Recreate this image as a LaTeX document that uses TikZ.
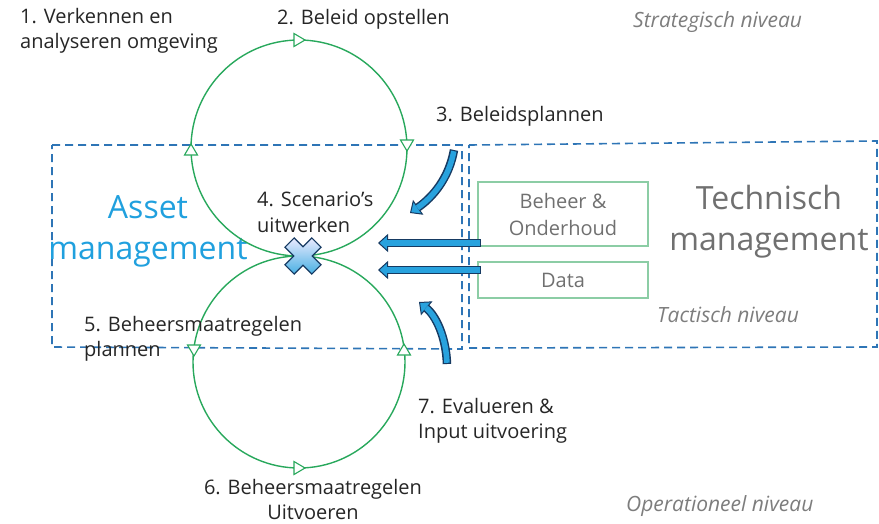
\documentclass[tikz,border=0pt]{standalone}
\usepackage{fontspec}
\setmainfont{Open Sans}
\usetikzlibrary{arrows.meta, positioning}

\definecolor{loopgreen}{RGB}{40,168,92}
\definecolor{boxblue}{RGB}{46,117,182}
\definecolor{assetblue}{RGB}{32,160,222}
\definecolor{arrowfill}{RGB}{40,162,222}
\definecolor{arrowedge}{RGB}{22,58,98}
\definecolor{levelgray}{RGB}{125,125,125}
\definecolor{techgray}{RGB}{112,112,112}
\definecolor{framegreen}{RGB}{140,205,165}

\begin{document}
\begin{tikzpicture}[
x=1pt, y=-1pt,
stepfont/.style={font=\fontsize{20}{25.5}\selectfont, text=black!85, inner sep=0pt, align=left},
levelfont/.style={font=\fontsize{21}{24}\selectfont\itshape, text=levelgray, inner sep=0pt},
bigfont/.style={font=\fontsize{32}{41}\selectfont, inner sep=0pt, align=center},
loopline/.style={draw=loopgreen, line width=1.4pt},
dashbox/.style={draw=boxblue, line width=1.6pt, dash pattern=on 8pt off 5pt},
infobox/.style={draw=framegreen, line width=1.2pt, text=techgray, font=\fontsize{20}{27}\selectfont, align=center, inner sep=0pt, minimum width=170pt},
bluearrow/.style={arrowedge, line width=8.5pt, -{Triangle[width=18pt, length=10pt, line width=1pt, fill=arrowfill]}},
bluecore/.style={arrowfill, line width=5.5pt, shorten >=9pt, shorten <=1.2pt},
tri/.pic={\draw[loopgreen, fill=white, line width=1.1pt] (6,0) -- (-5,-6.5) -- (-5,6.5) -- cycle;}
]

\useasboundingbox (0,0) rectangle (879,523);

%%%% LEVELS

\draw[dashbox] (52,145)--(462,145)--(462,349)--(52,347)--cycle;
\draw[dashbox] (469,145)--(877,141)--(877,347)--(469,348)--cycle;

\path (633,11)node[levelfont, anchor=north west](strat){Strategisch niveau};
\path (657,306)node[levelfont, anchor=north west](tact){Tactisch niveau};
\path (626,495)node[levelfont, anchor=north west](oper){Operationeel niveau};

\path (148,195)node[bigfont, anchor=north, text=assetblue](asset){Asset\\management};
\path (769,185)node[bigfont, anchor=north, text=techgray](tech){Technisch\\management};

%% boxes
\path (563,214)node[infobox, minimum height=64pt](beheer){Beheer \&\\Onderhoud};
\path (563,280)node[infobox, minimum height=36pt](data){Data};

%%%% LOOPS

\coordinate (up) at (299,148);
\coordinate (down) at (299,362);
\draw[loopline] (up) circle[radius=108];
\draw[loopline] (down) circle[radius=106];

\pic at (299,40) {tri};
\pic[rotate=-90] at (407,145) {tri};
\pic[rotate=90] at (191,150) {tri};
\pic[rotate=-90] at (194,350) {tri};
\pic at (299,468) {tri};
\pic[rotate=90] at (404,350) {tri};

%% cross
\coordinate (xm) at (303,256);
\begin{scope}[shift={(xm)}, rotate=45]
\draw[arrowedge, line width=1.2pt, top color=blue!8, bottom color=arrowfill!85!white]
(6.5,-19)--(6.5,-6.5)--(19,-6.5)--(19,6.5)--(6.5,6.5)--(6.5,19)--(-6.5,19)--(-6.5,6.5)--(-19,6.5)--(-19,-6.5)--(-6.5,-6.5)--(-6.5,-19)--cycle;
\end{scope}

%%%% STEPS

\path (20,8)node[stepfont, anchor=north west](s1){1. Verkennen en\\analyseren omgeving};
\path (277,9)node[stepfont, anchor=north west](s2){2. Beleid opstellen};
\path (436,106)node[stepfont, anchor=north west](s3){3. Beleidsplannen};
\path (257,192)node[stepfont, anchor=north west](s4){4. Scenario’s\\uitwerken};
\path (84,316)node[stepfont, anchor=north west](s5){5. Beheersmaatregelen\\plannen};
\path (313,479)node[stepfont, anchor=north, align=center](s6){6. Beheersmaatregelen\\Uitvoeren};
\path (418,398)node[stepfont, anchor=north west](s7){7. Evalueren \&\\Input uitvoering};

%%%% ARROWS

\coordinate (a1) at (481,243);
\coordinate (a2) at (378,243);
\coordinate (b1) at (481,270);
\coordinate (b2) at (378,270);
\draw[bluearrow] (a1)--(a2);
\draw[bluecore] (a1)--(a2);
\draw[bluearrow] (b1)--(b2);
\draw[bluecore] (b1)--(b2);

\coordinate (c1) at (454,150);
\coordinate (c2) at (410,213);
\draw[bluearrow] (c1) .. controls (449,178) and (433,197) .. (c2);
\draw[bluecore] (c1) .. controls (449,178) and (433,197) .. (c2);

\coordinate (d1) at (447,364);
\coordinate (d2) at (419,302);
\draw[bluearrow] (d1) .. controls (446,337) and (436,316) .. (d2);
\draw[bluecore] (d1) .. controls (446,337) and (436,316) .. (d2);

\end{tikzpicture}
\end{document}
